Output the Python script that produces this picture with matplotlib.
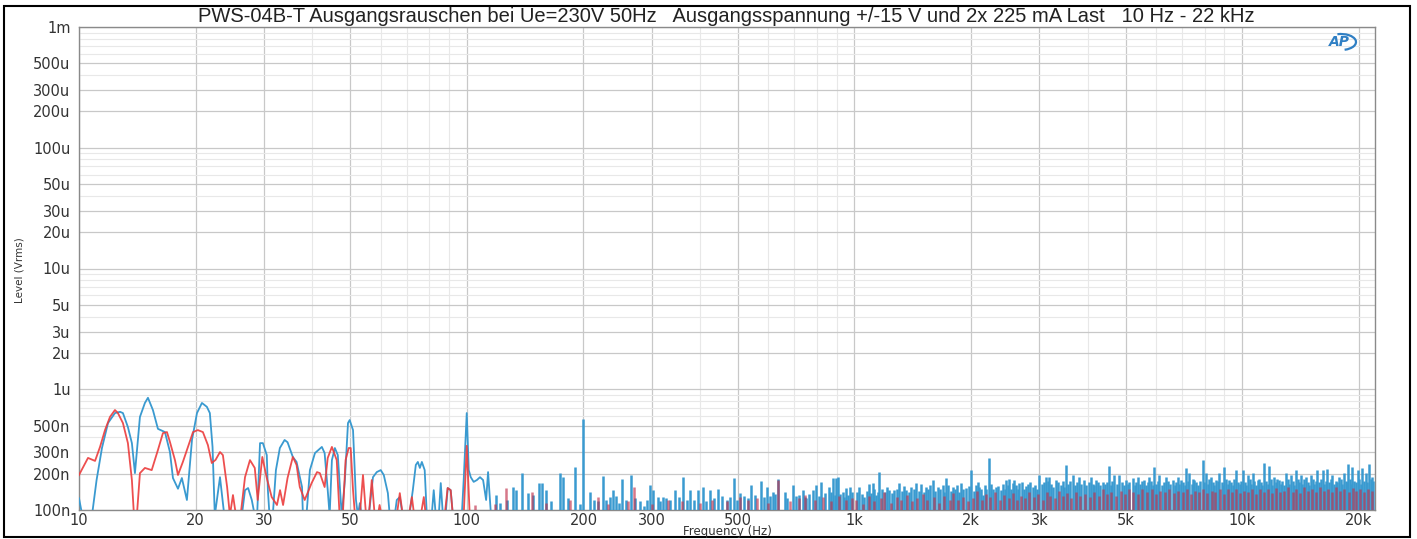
import numpy as np
import matplotlib.pyplot as plt
from matplotlib.patches import Rectangle, Arc

# FFT level, Vrms in nV. values < 100 are below the plot floor
blue_lf = [(10.0, 125), (10.2, 90), (10.8, 90), (11.1, 177), (11.46, 326), (11.88, 525),
           (12.38, 635), (12.76, 650), (12.98, 635), (13.37, 486), (13.69, 358), (13.94, 202),
           (14.36, 590), (14.79, 770), (15.06, 850), (15.51, 673), (15.98, 470), (16.66, 442),
           (17.16, 302), (17.47, 184), (18.0, 150), (18.42, 184), (18.98, 121), (19.56, 380),
           (20.15, 635), (20.75, 770), (21.37, 715), (21.75, 635), (22.1, 333), (22.4, 90),
           (23.1, 187), (23.7, 90), (26.3, 90), (26.8, 146), (27.3, 152), (27.9, 121),
           (28.4, 90), (28.8, 90), (29.3, 358), (29.8, 358), (30.5, 285), (30.7, 146),
           (31.0, 90), (31.6, 90), (32.2, 214), (32.96, 326), (33.9, 380), (34.5, 364),
           (35.6, 275), (36.4, 250), (37.6, 155), (37.8, 90), (38.6, 90), (39.4, 214),
           (40.6, 296), (42.3, 333), (43.0, 296), (43.8, 146), (44.3, 90), (44.9, 259),
           (45.7, 326), (46.5, 285), (47.6, 90), (48.5, 177), (49.4, 525), (49.9, 556),
           (50.9, 459), (51.8, 121), (52.4, 90), (53.0, 114), (53.6, 90), (55.9, 90),
           (57.3, 187), (58.6, 206), (60.0, 214), (61.1, 195), (62.6, 138), (63.3, 90),
           (65.2, 90), (66.0, 121), (67.2, 128), (68.4, 90), (71.1, 90), (72.6, 146),
           (73.9, 236), (74.8, 250), (75.7, 223), (76.6, 250), (77.9, 214), (78.9, 90),
           (81.2, 90), (82.2, 146), (83.2, 90), (84.7, 90), (85.7, 167), (86.8, 90),
           (88.2, 90), (89.3, 152), (90.9, 146), (92.1, 90), (97.1, 90), (98.2, 177),
           (100.0, 635), (101.2, 214), (102.4, 187), (104.2, 171), (106.2, 177), (108.2, 187),
           (110.2, 177), (112.2, 121), (113.5, 206), (115.5, 90)]

red_lf = [(10.0, 195), (10.55, 270), (11.0, 255), (11.33, 333), (11.67, 459), (12.02, 590),
          (12.38, 673), (12.6, 635), (12.98, 525), (13.37, 358), (13.69, 177), (13.86, 90),
          (14.1, 90), (14.36, 202), (14.79, 223), (15.4, 214), (15.98, 314), (16.46, 433),
          (16.86, 442), (17.16, 366), (17.68, 259), (18.0, 195), (18.53, 250), (19.1, 333),
          (19.68, 442), (20.25, 459), (20.87, 442), (21.5, 345), (22.0, 245), (22.5, 260),
          (23.1, 302), (23.5, 285), (24.1, 155), (24.5, 90), (24.95, 133), (25.4, 90),
          (26.1, 90), (26.8, 187), (27.6, 259), (28.4, 223), (28.9, 121), (29.7, 275),
          (30.5, 184), (31.4, 128), (32.4, 110), (33.0, 146), (33.6, 110), (34.5, 184),
          (35.6, 275), (36.4, 236), (37.1, 155), (38.2, 121), (39.8, 167), (41.1, 206),
          (41.8, 202), (43.0, 155), (43.8, 270), (44.9, 333), (46.2, 259), (47.0, 90),
          (47.9, 90), (48.7, 259), (49.6, 326), (50.2, 326), (50.9, 146), (51.5, 90),
          (53.0, 90), (54.0, 195), (55.0, 90), (55.9, 90), (56.9, 177), (57.9, 90),
          (59.0, 90), (59.6, 110), (60.3, 90), (66.0, 90), (67.2, 138), (68.4, 90),
          (70.9, 90), (72.2, 128), (73.2, 90), (76.1, 90), (77.5, 128), (78.4, 90),
          (87.7, 90), (89.3, 152), (90.9, 146), (92.1, 90), (98.2, 90), (100.0, 340),
          (101.8, 90)]

# single bins above ~115 Hz (peak values)
blue_spikes = [(119, 133), (122, 115), (127, 120), (132, 156), (134, 146), (139, 203),
               (144, 138), (148, 133), (154, 167), (156, 167), (160, 146), (165, 118),
               (174, 202), (177, 188), (182, 125), (190, 227), (196, 112), (200, 565),
               (208, 142), (213, 120), (218, 118), (224, 190), (229, 122), (234, 129),
               (238, 146), (243, 131), (247, 115), (252, 180), (258, 120), (265, 195),
               (272, 125), (280, 118), (287, 108), (292, 122), (297, 160), (302, 146),
               (311, 129), (315, 118), (320, 129), (327, 125), (335, 120), (345, 146),
               (352, 128), (362, 188), (370, 120), (377, 146), (385, 122), (395, 146),
               (406, 156), (415, 118), (425, 146), (435, 125), (444, 150), (455, 130),
               (468, 120), (478, 128), (488, 183), (498, 122), (508, 138), (520, 130),
               (530, 125), (540, 160), (555, 132), (573, 175), (585, 128), (596, 155),
               (605, 130), (618, 142), (625, 135), (634, 180), (660, 142), (670, 125),
               (693, 161), (705, 130), (721, 133), (736, 146), (745, 128), (751, 125),
               (765, 135), (781, 146), (797, 161), (810, 130), (821, 171), (840, 138),
               (862, 156), (870, 140), (879, 183), (890, 132), (897, 183), (906, 186),
               (920, 135), (933, 142), (940, 128), (952, 151), (960, 132), (971, 156),
               (985, 140), (1015, 140), (1030, 156), (1045, 135), (1061, 129), (1075, 145),
               (1093, 164), (1105, 138), (1115, 166), (1125, 150), (1137, 133), (1150, 142),
               (1160, 208), (1180, 150), (1200, 140), (1215, 155), (1231, 146), (1250, 138),
               (1268, 146), (1285, 150), (1306, 166), (1325, 145), (1340, 158), (1359, 146),
               (1380, 140), (1400, 156), (1420, 150), (1442, 168), (1465, 145), (1486, 164),
               (1510, 140), (1530, 156), (1550, 150), (1570, 160), (1591, 177), (1615, 145),
               (1639, 156), (1665, 150), (1689, 161), (1705, 142), (1723, 183), (1745, 160),
               (1770, 145), (1792, 156), (1815, 150), (1840, 162), (1860, 140), (1884, 166),
               (1910, 150), (1941, 151), (1970, 158), (2000, 214), (2030, 145), (2060, 161),
               (2080, 170), (2100, 156), (2120, 150), (2142, 133), (2165, 160), (2190, 148),
               (2228, 268), (2250, 165), (2280, 150), (2319, 156), (2350, 158), (2388, 146),
               (2420, 165), (2440, 150), (2460, 177), (2485, 160), (2508, 180), (2540, 150),
               (2560, 168), (2585, 177), (2610, 160), (2640, 150), (2663, 166), (2700, 170),
               (2730, 150), (2771, 158), (2800, 165), (2840, 170), (2881, 156), (2920, 160),
               (2960, 150), (3000, 195), (3040, 165), (3080, 170), (3119, 188), (3150, 175),
               (3182, 186), (3220, 165), (3260, 155), (3310, 177), (3350, 170), (3400, 160),
               (3440, 175), (3480, 155), (3513, 236), (3560, 165), (3600, 175), (3652, 195),
               (3700, 160), (3750, 170), (3800, 188), (3850, 165), (3915, 177), (3960, 160),
               (4020, 170), (4074, 188), (4120, 165), (4150, 160), (4197, 177), (4250, 170),
               (4300, 160), (4365, 171), (4420, 165), (4470, 170), (4522, 231), (4580, 160),
               (4620, 175), (4677, 195), (4740, 165), (4819, 195), (4900, 170), (4950, 160),
               (5013, 177), (5080, 165), (5120, 170), (5215, 183), (5280, 160), (5320, 170),
               (5372, 188), (5450, 165), (5500, 175), (5588, 177), (5650, 160), (5700, 170),
               (5757, 188), (5820, 175), (5870, 160), (5930, 228), (6000, 165), (6050, 175),
               (6109, 195), (6200, 160), (6280, 170), (6355, 188), (6430, 175), (6500, 165),
               (6610, 177), (6700, 160), (6750, 170), (6810, 188), (6880, 165), (6950, 177),
               (7050, 170), (7100, 160), (7160, 221), (7230, 175), (7301, 201), (7400, 165),
               (7460, 180), (7522, 177), (7620, 170), (7700, 160), (7800, 175), (7901, 259),
               (7980, 170), (8061, 201), (8150, 165), (8220, 180), (8305, 188), (8400, 170),
               (8480, 160), (8555, 177), (8640, 175), (8725, 201), (8850, 170), (8900, 160),
               (8988, 226), (9100, 180), (9180, 165), (9259, 177), (9350, 170), (9450, 160),
               (9540, 180), (9632, 214), (9750, 170), (9850, 165), (9930, 175), (10020, 214),
               (10150, 170), (10250, 160), (10320, 195), (10450, 180), (10540, 165), (10630, 201),
               (10750, 175), (10850, 160), (10950, 177), (11050, 180), (11150, 170), (11270, 160),
               (11390, 246), (11550, 175), (11650, 165), (11740, 231), (11850, 180), (11950, 160),
               (12090, 188), (12200, 170), (12330, 180), (12460, 177), (12600, 165), (12700, 175),
               (12830, 160), (12960, 201), (13100, 180), (13200, 165), (13350, 195), (13500, 175),
               (13600, 160), (13750, 214), (13900, 180), (14020, 170), (14170, 195), (14300, 165),
               (14450, 180), (14590, 188), (14750, 170), (14880, 160), (15030, 195), (15200, 180),
               (15350, 165), (15480, 175), (15630, 214), (15800, 170), (15950, 180), (16110, 214),
               (16250, 165), (16420, 175), (16590, 217), (16750, 170), (16920, 180), (17090, 195),
               (17250, 165), (17420, 175), (17600, 170), (17780, 188), (17950, 180), (18120, 165),
               (18320, 201), (18500, 175), (18650, 170), (18790, 240), (18950, 180), (19100, 165),
               (19240, 226), (19400, 175), (19600, 170), (19830, 214), (20000, 180), (20200, 165),
               (20420, 221), (20600, 175), (20840, 201), (21000, 170), (21250, 240), (21450, 180),
               (21590, 188), (21800, 175)]

red_spikes = [(105, 110), (118, 112), (126, 152), (147, 141), (160, 115), (185, 120),
              (218, 128), (232, 112), (260, 118), (270, 156), (300, 112), (330, 120),
              (360, 118), (400, 115), (430, 122), (470, 118), (508, 129), (530, 120),
              (560, 125), (600, 115), (634, 177), (680, 118), (720, 125), (745, 133),
              (790, 120), (830, 128), (870, 118), (910, 130), (950, 122), (985, 126),
              (1010, 120), (1050, 112), (1090, 130), (1120, 118), (1170, 125), (1195, 140),
              (1240, 115), (1290, 128), (1320, 120), (1370, 132), (1410, 118), (1450, 125),
              (1500, 135), (1540, 120), (1600, 128), (1650, 115), (1700, 130), (1760, 122),
              (1800, 138), (1850, 120), (1900, 128), (1960, 118), (2020, 125), (2070, 145),
              (2130, 120), (2180, 135), (2240, 128), (2300, 140), (2370, 120), (2430, 132),
              (2500, 125), (2570, 138), (2620, 120), (2690, 130), (2750, 125), (2820, 142),
              (2900, 128), (2980, 135), (3060, 120), (3130, 140), (3200, 130), (3290, 125),
              (3370, 145), (3450, 130), (3530, 138), (3620, 125), (3720, 140), (3820, 130),
              (3930, 135), (4040, 128), (4140, 142), (4260, 130), (4380, 150), (4480, 135),
              (4600, 140), (4720, 130), (4860, 145), (4980, 135), (5100, 150), (5240, 140),
              (5400, 135), (5530, 148), (5680, 140), (5840, 150), (5990, 135), (6150, 145),
              (6320, 140), (6470, 150), (6650, 138), (6830, 145), (7020, 140), (7200, 150),
              (7380, 135), (7560, 145), (7750, 140), (7940, 150), (8130, 138), (8340, 145),
              (8520, 140), (8760, 150), (8960, 135), (9200, 148), (9400, 140), (9620, 150),
              (9860, 138), (10100, 145), (10360, 140), (10600, 150), (10880, 135), (11120, 148),
              (11400, 140), (11680, 150), (11960, 138), (12250, 152), (12550, 140), (12850, 145),
              (13150, 155), (13480, 140), (13800, 150), (14120, 138), (14460, 155), (14800, 145),
              (15150, 150), (15500, 140), (15880, 155), (16280, 145), (16680, 150), (17080, 140),
              (17500, 155), (17920, 145), (18350, 150), (18800, 140), (19250, 152), (19700, 145),
              (20150, 150), (20650, 140), (21100, 148), (21600, 145)]

x_ticks = [10, 20, 30, 50, 100, 200, 300, 500, 1000, 2000, 3000, 5000, 10000, 20000]
x_labels = ['10', '20', '30', '50', '100', '200', '300', '500', '1k', '2k', '3k', '5k', '10k', '20k']
y_ticks = [1e-7, 2e-7, 3e-7, 5e-7, 1e-6, 2e-6, 3e-6, 5e-6, 1e-5, 2e-5, 3e-5, 5e-5,
           1e-4, 2e-4, 3e-4, 5e-4, 1e-3]
y_labels = ['100n', '200n', '300n', '500n', '1u', '2u', '3u', '5u', '10u', '20u', '30u', '50u',
            '100u', '200u', '300u', '500u', '1m']

BLUE = '#3a9ad0'
RED = '#ec3c3c'
FLOOR = 80e-9

fig = plt.figure(figsize=(14.17, 5.39), dpi=100)
ax = fig.add_axes([79/1417, 29/539, 1296/1417, 483/539])
ax.set_xscale('log')
ax.set_yscale('log')
ax.set_xlim(10, 22000)
ax.set_ylim(1e-7, 1e-3)

# grid: 1/2/3/5 darker, 4/6/7/8/9 lighter
minor_x = [m * d for d in (10, 100, 1000) for m in (4, 6, 7, 8, 9)]
minor_y = [m * d for d in (1e-7, 1e-6, 1e-5, 1e-4) for m in (4, 6, 7, 8, 9)]
ax.set_xticks(x_ticks)
ax.set_xticklabels(x_labels)
ax.set_xticks(minor_x, minor=True)
ax.set_yticks(y_ticks)
ax.set_yticklabels(y_labels)
ax.set_yticks(minor_y, minor=True)
ax.tick_params(which='both', length=0)
ax.tick_params(axis='x', labelsize=10.5, labelcolor='#333333', pad=2)
ax.tick_params(axis='y', labelsize=10.5, labelcolor='#333333', pad=6)
ax.grid(True, which='major', color='#c8c8c8', lw=0.9)
ax.grid(True, which='minor', color='#e8e8e8', lw=0.8)
ax.set_axisbelow(True)
for s in ax.spines.values():
    s.set_color('#8a8a8a')
    s.set_linewidth(1.0)

bf, bv = zip(*blue_lf)
rf, rv = zip(*red_lf)
ax.plot(bf, np.array(bv) * 1e-9, color=BLUE, lw=1.3, zorder=3)
ax.plot(rf, np.array(rv) * 1e-9, color=RED, lw=1.3, alpha=0.9, zorder=4)

bsf, bsv = zip(*blue_spikes)
rsf, rsv = zip(*red_spikes)
ax.vlines(bsf, FLOOR, np.array(bsv) * 1e-9, color=BLUE, lw=1.8, zorder=3)
ax.vlines(rsf, FLOOR, np.array(rsv) * 1e-9, color='#c0304a', lw=1.8, alpha=0.65, zorder=4)

fig.text(726/1417, 1 - 17/539,
         'PWS-04B-T Ausgangsrauschen bei Ue=230V 50Hz   Ausgangsspannung +/-15 V und 2x 225 mA Last   10 Hz - 22 kHz',
         ha='center', va='center', fontsize=14.5, color='#222222', family='Liberation Sans')
fig.text(20/1417, 1 - 270/539, 'Level (Vrms)', rotation=90, ha='center', va='center',
         fontsize=7.5, color='#333333', family=['Liberation Sans Narrow', 'DejaVu Sans'])
fig.text(727/1417, 1 - 532/539, 'Frequency (Hz)', ha='center', va='center',
         fontsize=8.5, color='#333333')

# AP logo
fig.text(1339/1417, 1 - 42/539, 'AP', ha='center', va='center', fontsize=10,
         fontstyle='italic', fontweight='bold', color='#2f7fc4')
fig.patches.append(Arc((1341/1417, 1 - 42/539), 30/1417, 16/539, theta1=-80, theta2=100,
                       transform=fig.transFigure, color='#2f7fc4', lw=1.6))

# outer frame
fig.patches.append(Rectangle((4/1417, 2/539), 1406/1417, 531/539, transform=fig.transFigure,
                             fill=False, ec='black', lw=1.5))

fig.savefig('out.png', dpi=100, facecolor='white')
